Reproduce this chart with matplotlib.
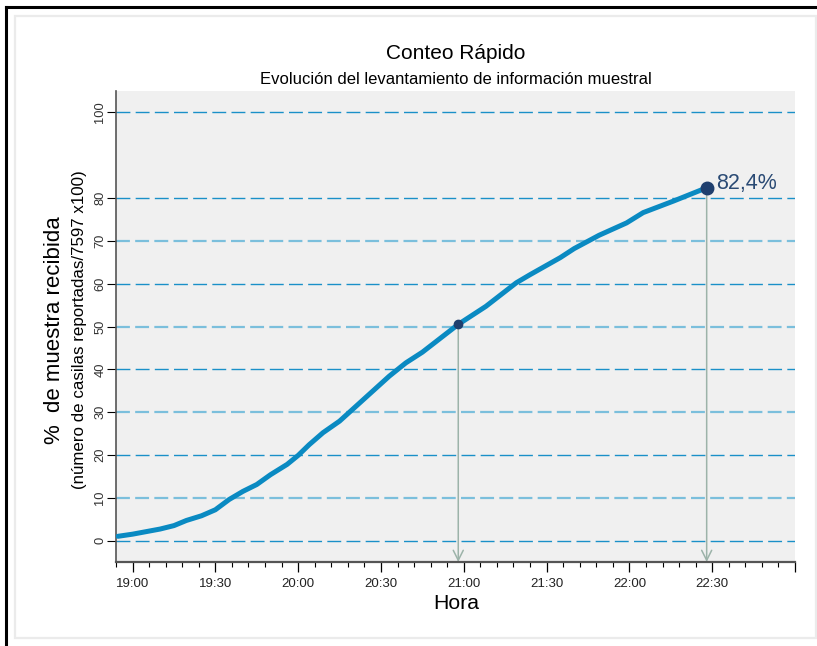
import matplotlib
matplotlib.use("Agg")
import matplotlib.pyplot as plt
from matplotlib.lines import Line2D
from matplotlib.patches import Rectangle
from matplotlib.ticker import FixedLocator, MultipleLocator

plt.rcParams["font.family"] = ["Liberation Sans", "DejaVu Sans"]
plt.rcParams["lines.scale_dashes"] = False

# ---- data (minutes after 19:00, % of sample received) ----
minutes = [-5.3, 0, 10, 15, 19.5, 25, 30, 35, 40, 45, 50, 56, 60, 64, 69, 75, 81,
           87, 93, 99, 105, 111, 118, 128, 139, 144, 155, 160, 169, 179, 185, 196, 208]
percent = [1.0, 1.5, 2.7, 3.5, 4.7, 5.8, 7.2, 9.6, 11.5, 13.1, 15.4, 17.8, 19.9,
           22.4, 25.2, 27.9, 31.4, 34.9, 38.4, 41.5, 44.0, 47.0, 50.5, 54.7, 60.2,
           62.1, 66.1, 68.2, 71.3, 74.2, 76.6, 79.3, 82.4]

mark_minutes = [118, 208]
mark_percent = [50.5, 82.4]
mark_sizes = [6, 9]

x_ticks = [0, 30, 60, 90, 120, 150, 180, 210, 240]
x_labels = ["19:00", "19:30", "20:00", "20:30", "21:00", "21:30", "22:00", "22:30", ""]
y_ticks = [0, 10, 20, 30, 40, 50, 60, 70, 80, 100]
grid_dark = [0, 20, 40, 60, 80, 100]
grid_light = [10, 30, 50, 70]

W, H = 817, 646
fig = plt.figure(figsize=(W / 100, H / 100), dpi=100)
ax = fig.add_axes([116 / W, 1 - 562 / H, (795 - 116) / W, (562 - 91) / H])
ax.set_facecolor("#f0f0f0")

# frame around the figure
fig.add_artist(Rectangle((15 / W, 1 - 638 / H), (816 - 15) / W, (638 - 16) / H,
                         transform=fig.transFigure, fill=False,
                         edgecolor="#ebebeb", linewidth=1.6))
fig.add_artist(Line2D([6 / W, 1], [1 - 7 / H, 1 - 7 / H], transform=fig.transFigure,
                      color="black", linewidth=2.2))
fig.add_artist(Line2D([6 / W, 6 / W], [0, 1 - 7 / H], transform=fig.transFigure,
                      color="black", linewidth=2.2))

for v in grid_dark:
    ax.axhline(v, color="#1a90c8", linewidth=1.0, dashes=(10, 3.8), zorder=1)
for v in grid_light:
    ax.axhline(v, color="#7bbfdc", linewidth=1.6, dashes=(10, 3.8), zorder=1)

ax.plot(minutes, percent, color="#0a8ac2", linewidth=3.6, solid_capstyle="round", zorder=3)

for m, p in zip(mark_minutes, mark_percent):
    ax.annotate("", xy=(m, -5), xytext=(m, p),
                arrowprops=dict(arrowstyle="->", color="#9cb3a9", linewidth=1.1,
                                mutation_scale=18, shrinkA=0, shrinkB=0), zorder=2)
for m, p, s in zip(mark_minutes, mark_percent, mark_sizes):
    ax.plot(m, p, "o", color="#1f3f6e", markersize=s, zorder=4)

ax.text(mark_minutes[1] + 3.6, mark_percent[1] + 1.0, "82,4%", color="#2a4a74",
        fontsize=15.5, va="center", ha="left")

ax.set_xlim(-6, 240)
ax.set_ylim(-5, 105)
ax.xaxis.set_major_locator(FixedLocator(x_ticks))
ax.set_xticklabels(x_labels)
ax.xaxis.set_minor_locator(MultipleLocator(6))
ax.set_yticks(y_ticks)
ax.tick_params(axis="y", length=6.5, width=0.8, pad=0.5, labelsize=9.3, labelrotation=90,
               colors="black", labelcolor="#333333")
ax.tick_params(axis="x", which="major", length=7, width=0.9, pad=4.5, labelsize=9.5,
               labelcolor="#222222")
ax.tick_params(axis="x", which="minor", length=3.5, width=0.8)
for lab in ax.get_yticklabels():
    lab.set_verticalalignment("center")

for side in ("top", "right"):
    ax.spines[side].set_visible(False)
ax.spines["left"].set_color("#555555")
ax.spines["left"].set_linewidth(1.2)
ax.spines["bottom"].set_color("#555555")
ax.spines["bottom"].set_linewidth(1.6)

fig.text(456 / W, 1 - 59 / H, "Conteo Rápido", ha="center", va="baseline", fontsize=15)
fig.text(456 / W, 1 - 84 / H, "Evolución del levantamiento de información muestral",
         ha="center", va="baseline", fontsize=12)
fig.text(456 / W, 1 - 609 / H, "Hora", ha="center", va="baseline", fontsize=15.3)
fig.text(55 / W, 1 - 330 / H, "%  de muestra recibida", rotation=90, ha="center",
         va="center", fontsize=16)
fig.text(80 / W, 1 - 330 / H, "(número de casilas reportadas/7597 x100)", rotation=90,
         ha="center", va="center", fontsize=12.2)

fig.savefig("out.png", dpi=100)
